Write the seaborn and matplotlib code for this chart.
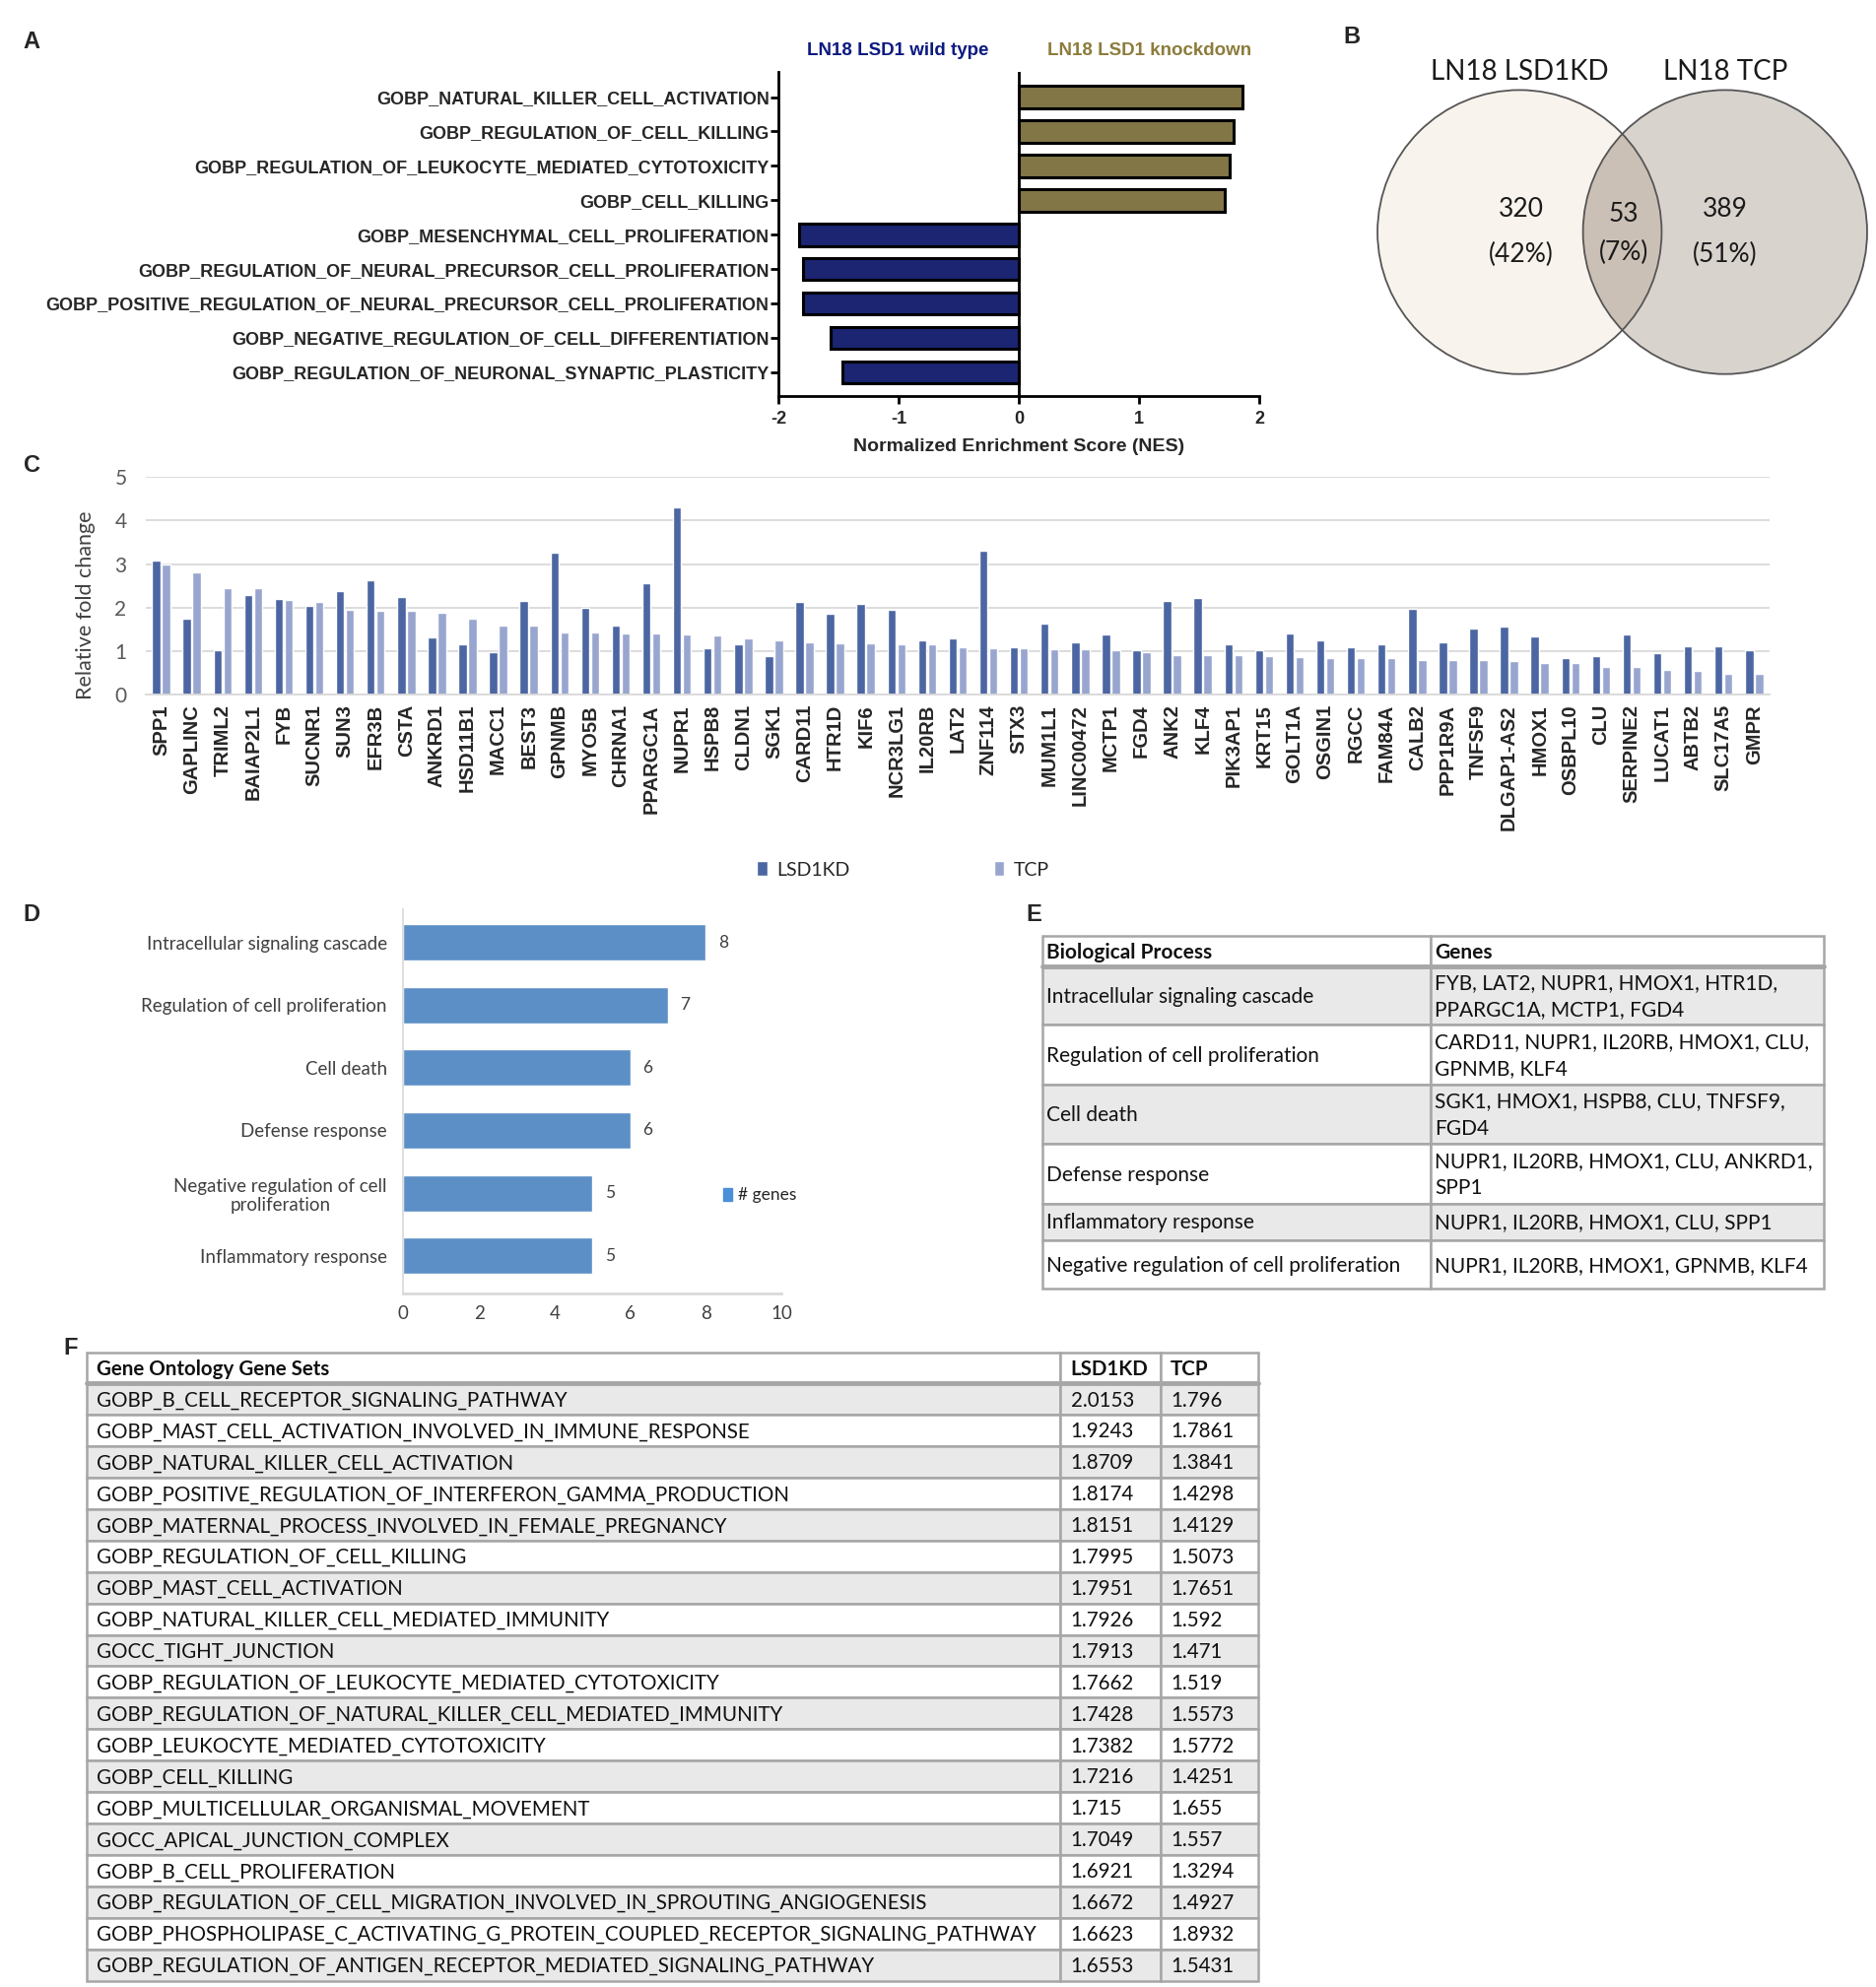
import numpy as np
import pandas as pd
import seaborn as sns
import matplotlib.pyplot as plt
from matplotlib.patches import Circle, Rectangle, Patch

sns.set_theme(style='white')
plt.rcParams['font.family'] = ['Liberation Sans', 'DejaVu Sans']
plt.rcParams['axes.unicode_minus'] = False
CAL = ['Lato', 'DejaVu Sans']   # calibri-ish text

# ---- panel A: GSEA NES
nes_terms = ['GOBP_NATURAL_KILLER_CELL_ACTIVATION',
             'GOBP_REGULATION_OF_CELL_KILLING',
             'GOBP_REGULATION_OF_LEUKOCYTE_MEDIATED_CYTOTOXICITY',
             'GOBP_CELL_KILLING',
             'GOBP_MESENCHYMAL_CELL_PROLIFERATION',
             'GOBP_REGULATION_OF_NEURAL_PRECURSOR_CELL_PROLIFERATION',
             'GOBP_POSITIVE_REGULATION_OF_NEURAL_PRECURSOR_CELL_PROLIFERATION',
             'GOBP_NEGATIVE_REGULATION_OF_CELL_DIFFERENTIATION',
             'GOBP_REGULATION_OF_NEURONAL_SYNAPTIC_PLASTICITY']
nes_values = [1.86, 1.78, 1.75, 1.71, -1.83, -1.80, -1.80, -1.57, -1.47]

# ---- panel B: venn
venn_sets = ['LN18 LSD1KD', 'LN18 TCP']
venn_counts = [320, 53, 389]

# ---- panel C: fold change
genes = ['SPP1', 'GAPLINC', 'TRIML2', 'BAIAP2L1', 'FYB', 'SUCNR1', 'SUN3', 'EFR3B',
         'CSTA', 'ANKRD1', 'HSD11B1', 'MACC1', 'BEST3', 'GPNMB', 'MYO5B', 'CHRNA1',
         'PPARGC1A', 'NUPR1', 'HSPB8', 'CLDN1', 'SGK1', 'CARD11', 'HTR1D', 'KIF6',
         'NCR3LG1', 'IL20RB', 'LAT2', 'ZNF114', 'STX3', 'MUM1L1', 'LINC00472', 'MCTP1',
         'FGD4', 'ANK2', 'KLF4', 'PIK3AP1', 'KRT15', 'GOLT1A', 'OSGIN1', 'RGCC',
         'FAM84A', 'CALB2', 'PPP1R9A', 'TNFSF9', 'DLGAP1-AS2', 'HMOX1', 'OSBPL10', 'CLU',
         'SERPINE2', 'LUCAT1', 'ABTB2', 'SLC17A5', 'GMPR']
kd_fc = [3.08, 1.75, 1.02, 2.28, 2.20, 2.04, 2.37, 2.62, 2.24, 1.32, 1.17, 0.99, 2.15,
         3.27, 2.00, 1.58, 2.56, 4.31, 1.07, 1.17, 0.90, 2.13, 1.87, 2.08, 1.94, 1.24,
         1.30, 3.31, 1.09, 1.64, 1.21, 1.38, 1.03, 2.15, 2.23, 1.15, 1.02, 1.40, 1.24,
         1.09, 1.15, 1.98, 1.21, 1.53, 1.56, 1.33, 0.84, 0.90, 1.38, 0.96, 1.12, 1.12, 1.02]
tcp_fc = [2.98, 2.81, 2.45, 2.45, 2.17, 2.13, 1.95, 1.92, 1.92, 1.89, 1.75, 1.60, 1.58,
          1.43, 1.43, 1.40, 1.40, 1.38, 1.37, 1.30, 1.24, 1.21, 1.18, 1.18, 1.16, 1.16,
          1.09, 1.08, 1.07, 1.05, 1.05, 1.03, 0.98, 0.92, 0.91, 0.91, 0.90, 0.87, 0.84,
          0.84, 0.84, 0.81, 0.81, 0.81, 0.77, 0.72, 0.72, 0.63, 0.63, 0.57, 0.54, 0.49, 0.49]

# ---- panel D: GO counts
processes = ['Intracellular signaling cascade', 'Regulation of cell proliferation',
             'Cell death', 'Defense response', 'Negative regulation of cell\nproliferation',
             'Inflammatory response']
n_genes = [8, 7, 6, 6, 5, 5]

# ---- panel E: table
bp_names = ['Intracellular signaling cascade', 'Regulation of cell proliferation',
            'Cell death', 'Defense response', 'Inflammatory response',
            'Negative regulation of cell proliferation']
bp_genes = ['FYB, LAT2, NUPR1, HMOX1, HTR1D,\nPPARGC1A, MCTP1, FGD4',
            'CARD11, NUPR1, IL20RB, HMOX1, CLU,\nGPNMB, KLF4',
            'SGK1, HMOX1, HSPB8, CLU, TNFSF9,\nFGD4',
            'NUPR1, IL20RB, HMOX1, CLU, ANKRD1,\nSPP1',
            'NUPR1, IL20RB, HMOX1, CLU, SPP1',
            'NUPR1, IL20RB, HMOX1, GPNMB, KLF4']

# ---- panel F: table
go_sets = ['GOBP_B_CELL_RECEPTOR_SIGNALING_PATHWAY',
           'GOBP_MAST_CELL_ACTIVATION_INVOLVED_IN_IMMUNE_RESPONSE',
           'GOBP_NATURAL_KILLER_CELL_ACTIVATION',
           'GOBP_POSITIVE_REGULATION_OF_INTERFERON_GAMMA_PRODUCTION',
           'GOBP_MATERNAL_PROCESS_INVOLVED_IN_FEMALE_PREGNANCY',
           'GOBP_REGULATION_OF_CELL_KILLING',
           'GOBP_MAST_CELL_ACTIVATION',
           'GOBP_NATURAL_KILLER_CELL_MEDIATED_IMMUNITY',
           'GOCC_TIGHT_JUNCTION',
           'GOBP_REGULATION_OF_LEUKOCYTE_MEDIATED_CYTOTOXICITY',
           'GOBP_REGULATION_OF_NATURAL_KILLER_CELL_MEDIATED_IMMUNITY',
           'GOBP_LEUKOCYTE_MEDIATED_CYTOTOXICITY',
           'GOBP_CELL_KILLING',
           'GOBP_MULTICELLULAR_ORGANISMAL_MOVEMENT',
           'GOCC_APICAL_JUNCTION_COMPLEX',
           'GOBP_B_CELL_PROLIFERATION',
           'GOBP_REGULATION_OF_CELL_MIGRATION_INVOLVED_IN_SPROUTING_ANGIOGENESIS',
           'GOBP_PHOSPHOLIPASE_C_ACTIVATING_G_PROTEIN_COUPLED_RECEPTOR_SIGNALING_PATHWAY',
           'GOBP_REGULATION_OF_ANTIGEN_RECEPTOR_MEDIATED_SIGNALING_PATHWAY']
go_kd = [2.0153, 1.9243, 1.8709, 1.8174, 1.8151, 1.7995, 1.7951, 1.7926, 1.7913, 1.7662,
         1.7428, 1.7382, 1.7216, 1.715, 1.7049, 1.6921, 1.6672, 1.6623, 1.6553]
go_tcp = [1.796, 1.7861, 1.3841, 1.4298, 1.4129, 1.5073, 1.7651, 1.592, 1.471, 1.519,
          1.5573, 1.5772, 1.4251, 1.655, 1.557, 1.3294, 1.4927, 1.8932, 1.5431]

NAVY = '#0d1a80'
OLIVE = '#8c7c3c'
C_KD = '#3d60b0'
C_TCP = '#8fa2d8'
C_D = '#4a8fd8'
GRID = '#d9d9d9'

# layout grid (1479 x 1567 units)
W, H = 1479, 1567
fig = plt.figure(figsize=(19.04, 20.17), dpi=100)


def box(x0, y0, x1, y1):
    return [x0 / W, 1 - y1 / H, (x1 - x0) / W, (y1 - y0) / H]


# ---------------- A
ax_a = fig.add_axes(box(614, 57, 993, 312))
direction = ['up' if v > 0 else 'down' for v in nes_values]
sns.barplot(x=nes_values, y=nes_terms, hue=direction, palette={'up': OLIVE, 'down': NAVY},
            dodge=False, width=0.65, edgecolor='black', linewidth=2.2, legend=False,
            orient='h', ax=ax_a)
ax_a.axvline(0, color='black', lw=2, zorder=0)
ax_a.set_xlim(-2, 2)
ax_a.set_ylim(8.68, -0.72)
ax_a.set_xticks([-2, -1, 0, 1, 2])
sns.despine(ax=ax_a)
for s in ['left', 'bottom']:
    ax_a.spines[s].set_linewidth(2)
    ax_a.spines[s].set_color('black')
ax_a.tick_params(axis='both', which='both', length=6, width=2, color='black',
                 labelsize=13, direction='out', left=True, bottom=True)
ax_a.tick_params(axis='x', pad=5)
ax_a.tick_params(axis='y', pad=1)
for t in ax_a.get_xticklabels() + ax_a.get_yticklabels():
    t.set_fontweight('bold')
ax_a.set_xlabel('Normalized Enrichment Score (NES)', fontsize=14, fontweight='bold', labelpad=8)
ax_a.set_ylabel('')

# ---------------- C
df_c = pd.DataFrame({'gene': genes * 2,
                     'fc': kd_fc + tcp_fc,
                     'group': ['LSD1KD'] * len(genes) + ['TCP'] * len(genes)})
ax_c = fig.add_axes(box(115, 376, 1395, 548))
sns.barplot(data=df_c, x='gene', y='fc', hue='group', palette=[C_KD, C_TCP],
            width=0.64, gap=0.15, ax=ax_c)
ax_c.set_ylim(0, 5)
ax_c.set_xlim(-0.5, len(genes) - 0.5)
ax_c.set_yticks(range(6))
ax_c.yaxis.grid(True, color=GRID, lw=1.3)
ax_c.set_axisbelow(True)
sns.despine(ax=ax_c, left=True)
ax_c.spines['bottom'].set_color(GRID)
ax_c.spines['bottom'].set_linewidth(1.3)
ax_c.tick_params(axis='x', length=0, pad=7, rotation=90, labelsize=14.5)
ax_c.tick_params(axis='y', length=0, pad=14, labelsize=15, labelcolor='#595959')
for t in ax_c.get_xticklabels():
    t.set_fontweight('bold')
for t in ax_c.get_yticklabels():
    t.set_family(CAL)
ax_c.set_xlabel('')
ax_c.set_ylabel('Relative fold change', fontsize=15.5, color='#404040', family=CAL)
ax_c.yaxis.set_label_coords(-0.031, 0.41)
h, l = ax_c.get_legend_handles_labels()
ax_c.legend(h, l, loc='center', bbox_to_anchor=(712 / W, 1 - 686 / H),
            bbox_transform=fig.transFigure, ncol=2, frameon=False, columnspacing=7.5,
            handlelength=0.55, handleheight=0.8, handletextpad=0.5,
            prop={'family': CAL, 'size': 14})

# ---------------- D
ax_d = fig.add_axes(box(318, 717, 616, 1020))
sns.barplot(x=n_genes, y=processes, color=C_D, width=0.58, orient='h', ax=ax_d)
ax_d.set_xlim(0, 10)
ax_d.set_ylim(5.6, -0.53)
ax_d.set_xticks(range(0, 11, 2))
sns.despine(ax=ax_d)
ax_d.spines['left'].set_color(GRID)
ax_d.spines['bottom'].set_color(GRID)
ax_d.spines['bottom'].set_linewidth(2)
ax_d.tick_params(axis='both', length=0, labelsize=13.5, labelcolor='#404040')
ax_d.tick_params(axis='x', pad=9)
ax_d.tick_params(axis='y', pad=12)
for t in ax_d.get_xticklabels() + ax_d.get_yticklabels():
    t.set_family(CAL)
    t.set_multialignment('center')
for c in ax_d.containers:
    ax_d.bar_label(c, padding=9, fontsize=12.5, color='#404040', family=CAL)
ax_d.legend(handles=[Patch(color=C_D, label='# genes')], loc='center left',
            bbox_to_anchor=(0.805, 0.255), frameon=False, handlelength=0.55,
            handleheight=0.8, handletextpad=0.3, prop={'family': CAL, 'size': 12.5})
ax_d.set_xlabel('')
ax_d.set_ylabel('')

# ---------------- overlay: labels, venn, tables
ov = fig.add_axes([0, 0, 1, 1])
ov.set_xlim(0, W)
ov.set_ylim(H, 0)
ov.axis('off')

for lab, x, y in [('A', 25, 33), ('B', 1066, 29), ('C', 25, 367), ('D', 25, 721),
                  ('E', 815, 721), ('F', 56, 1063)]:
    ov.text(x, y, lab, fontsize=17, fontweight='bold', ha='center', va='center')

ov.text(708, 40, 'LN18 LSD1 wild type', color=NAVY, fontsize=13.5, fontweight='bold',
        ha='center', va='center')
ov.text(906, 40, 'LN18 LSD1 knockdown', color=OLIVE, fontsize=13.5, fontweight='bold',
        ha='center', va='center')

# venn
total = sum(venn_counts)
cx_l, cx_r, cy, r = 1198, 1360, 183, 112
left = Circle((cx_l, cy), r, facecolor='#f8f3ec', edgecolor='none')
right = Circle((cx_r, cy), r, facecolor='#d9d3ce', edgecolor='none')
ov.add_patch(left)
ov.add_patch(right)
lens = Circle((cx_r, cy), r, facecolor='#cbc0b5', edgecolor='none')
ov.add_patch(lens)
lens.set_clip_path(left)
for cx in (cx_l, cx_r):
    ov.add_patch(Circle((cx, cy), r, facecolor='none', edgecolor='#555555', lw=1.3))
for name, x in zip(venn_sets, (cx_l, cx_r)):
    ov.text(x, 57, name, fontsize=20, family=CAL, ha='center', va='center', color='#1a1a1a')
for cnt, x, y in zip(venn_counts, (1199, 1280, 1360), (165, 169, 165)):
    ov.text(x, y, str(cnt), fontsize=19, family=CAL, ha='center', va='center', color='#1a1a1a')
    ov.text(x, y + 36 if cnt != 53 else y + 30, f'({round(100 * cnt / total)}%)', fontsize=19,
            family=CAL, ha='center', va='center', color='#1a1a1a')


def draw_table(col_x, row_y, rows, fontsize, grey_rows, pad=4):
    for i, row in enumerate(rows):
        y0, y1 = row_y[i], row_y[i + 1]
        fill = '#e9e9e9' if i in grey_rows else 'white'
        for j, txt in enumerate(row):
            x0, x1 = col_x[j], col_x[j + 1]
            ov.add_patch(Rectangle((x0, y0), x1 - x0, y1 - y0, facecolor=fill,
                                   edgecolor='#a6a6a6', lw=1.8))
            ov.text(x0 + pad, (y0 + y1) / 2 + 1, txt, fontsize=fontsize, family=CAL,
                    ha='left', va='center', linespacing=1.45,
                    fontweight='bold' if i == 0 else 'normal', color='#111111')
    ov.plot([col_x[0], col_x[-1]], [row_y[1], row_y[1]], color='#a6a6a6', lw=3.5)


# E
e_rows = [['Biological Process', 'Genes']] + [[a, b] for a, b in zip(bp_names, bp_genes)]
draw_table([822, 1128, 1438], [738, 762, 808, 855, 902, 949, 978, 1016], e_rows, 15,
           grey_rows={1, 3, 5}, pad=3)

# F
f_rows = [['Gene Ontology Gene Sets', 'LSD1KD', 'TCP']] + \
         [[s, f'{a}', f'{b}'] for s, a, b in zip(go_sets, go_kd, go_tcp)]
step = (1562 - 1091) / len(go_sets)
f_y = [1067] + [1091 + k * step for k in range(len(go_sets) + 1)]
draw_table([68, 836, 915, 992], f_y, f_rows, 14.8,
           grey_rows=set(range(1, len(f_rows), 2)), pad=8)

fig.savefig('out.png', dpi=100, facecolor='white')
